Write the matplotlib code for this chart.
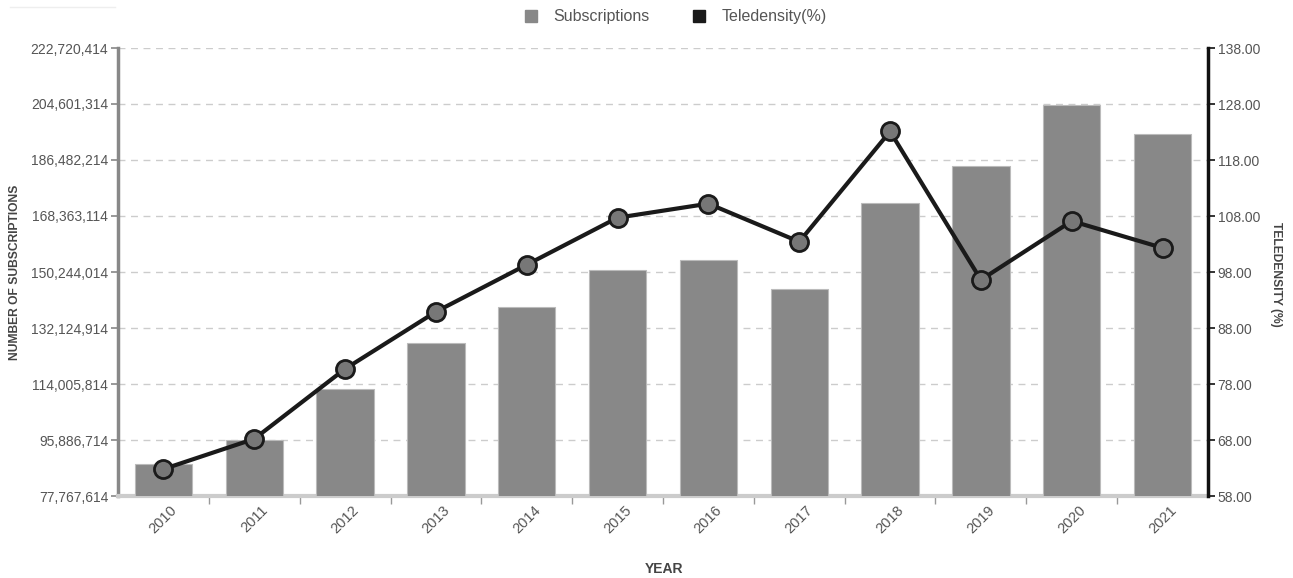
"""
Subscriptions vs teledensity, 2010-2021
"""

import numpy as np
from matplotlib import pyplot as plt
from matplotlib.lines import Line2D
from matplotlib.ticker import FixedLocator

# Data
years = ["2010", "2011", "2012", "2013", "2014", "2015",
         "2016", "2017", "2018", "2019", "2020", "2021"]
subscriptions = [88.0e6, 95.9e6, 112.5e6, 127.3e6, 138.8e6, 150.9e6,
                 154.2e6, 144.7e6, 172.6e6, 184.4e6, 204.2e6, 194.8e6]
teledensity = [62.8, 68.2, 80.7, 90.9, 99.3, 107.7,
               110.2, 103.4, 123.1, 96.6, 107.1, 102.3]
left_ticks = [77767614, 95886714, 114005814, 132124914, 150244014,
              168363114, 186482214, 204601314, 222720414]
right_ticks = [58, 68, 78, 88, 98, 108, 118, 128, 138]

plt.rcParams["font.family"] = ["Liberation Sans", "DejaVu Sans"]
text_col = "#555555"

fig = plt.figure(figsize=(12.93, 5.78), dpi=100)
ax = fig.add_axes([118 / 1293, 1 - 496 / 578, 1090 / 1293, 448 / 578])
ax2 = ax.twinx()

x = np.arange(len(years))

# Bars
ax.bar(x, subscriptions, width=0.63, color="#888888", edgecolor="#bbbbbb",
       linewidth=0.8, zorder=3)
ax.set_ylim(left_ticks[0], left_ticks[-1])
ax.set_xlim(-0.5, len(years) - 0.5)
ax.set_yticks(left_ticks)
ax.set_yticklabels([f"{v:,}" for v in left_ticks])
ax.grid(axis="y", color="#cccccc", linestyle=(0, (5, 4)), linewidth=1, zorder=0)

# Line
ax2.plot(x, teledensity, color="#1a1a1a", linewidth=3, marker="o",
         markersize=13, markerfacecolor="#777777", markeredgecolor="#1a1a1a",
         markeredgewidth=2, zorder=5)
ax2.set_ylim(right_ticks[0], right_ticks[-1])
ax2.set_yticks(right_ticks)
ax2.set_yticklabels([f"{v:.2f}" for v in right_ticks])

# X ticks: labels at centres, tick marks between categories
ax.set_xticks(x)
ax.set_xticklabels(years, rotation=45, ha="center", va="top")
ax.tick_params(axis="x", which="major", length=0, pad=5, labelsize=10.5,
               labelcolor=text_col)
ax.xaxis.set_minor_locator(FixedLocator(x[:-1] + 0.5))
ax.tick_params(axis="x", which="minor", length=6, color="#999999", width=1)

# Spines
for a in (ax, ax2):
    a.spines["top"].set_visible(False)
ax.spines["right"].set_visible(False)
ax.spines["left"].set_color("#888888")
ax.spines["left"].set_linewidth(2.5)
ax.spines["bottom"].set_color("#cccccc")
ax.spines["bottom"].set_linewidth(3)
ax2.spines["left"].set_visible(False)
ax2.spines["bottom"].set_visible(False)
ax2.spines["right"].set_color("#111111")
ax2.spines["right"].set_linewidth(2.5)

ax.tick_params(axis="y", length=5, color="#888888", width=1.2,
               labelsize=10, labelcolor=text_col, pad=2)
ax2.tick_params(axis="y", length=5, color="#111111", width=1.2,
                labelsize=10, labelcolor=text_col, pad=2)

# Axis titles
fig.text(15 / 1293, 1 - 272 / 578, "NUMBER OF SUBSCRIPTIONS", rotation=90,
         ha="center", va="center", fontsize=8.7, fontweight="bold", color="#444444")
fig.text(1276 / 1293, 1 - 274 / 578, "TELEDENSITY (%)", rotation=270,
         ha="center", va="center", fontsize=8.7, fontweight="bold", color="#444444")
fig.text(664 / 1293, 1 - 569 / 578, "YEAR", ha="center", va="center",
         fontsize=10, fontweight="bold", color="#444444")

# Legend
handles = [Line2D([], [], linestyle="none", marker="s", markersize=8,
                  color="#888888"),
           Line2D([], [], linestyle="none", marker="s", markersize=8,
                  color="#1a1a1a")]
leg = fig.legend(handles, ["Subscriptions", "Teledensity(%)"], loc="center",
                 bbox_to_anchor=(0.522, 1 - 17 / 578), ncol=2, frameon=False,
                 fontsize=11.5, handletextpad=0.9, columnspacing=2.6,
                 handlelength=1.0)
for t in leg.get_texts():
    t.set_color(text_col)

# faint line at top left
fig.add_artist(Line2D([10 / 1293, 115 / 1293], [1 - 7 / 578, 1 - 7 / 578],
                      color="#eeeeee", linewidth=1))

plt.savefig("out.png", dpi=100)
